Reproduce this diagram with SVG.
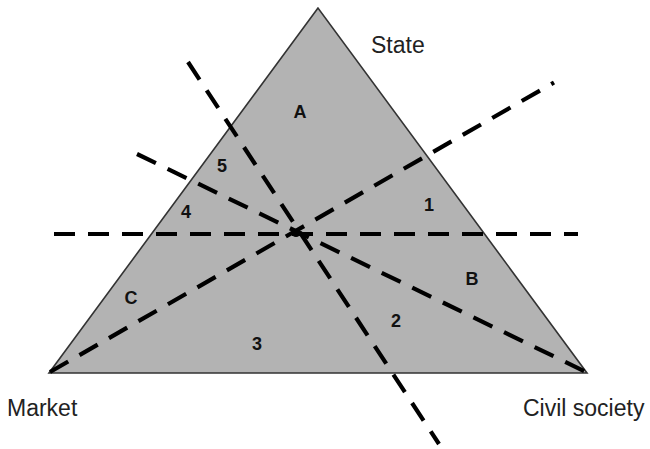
<svg xmlns="http://www.w3.org/2000/svg" width="650" height="449" viewBox="0 0 650 449">
  <style>
    .lbl { font-family: "Liberation Sans", Arial, sans-serif; font-size: 23px; fill: #222; }
    .zone { font-family: "Liberation Sans", Arial, sans-serif; font-size: 18px; font-weight: bold; fill: #111; text-anchor: middle; }
    .dash { stroke: #000; stroke-width: 4.2; stroke-dasharray: 21 13; fill: none; }
  </style>
  <rect width="650" height="449" fill="#fff"/>
  <g id="triangle">
    <polygon points="318,8 49,373 587,373" fill="#b3b3b3" stroke="#333" stroke-width="1.6" stroke-linejoin="miter"/>
  </g>
  <g id="connectors">
    <line class="dash" x1="54" y1="234" x2="578" y2="234"/>
    <line class="dash" x1="50" y1="372" x2="554" y2="82.5"/>
    <line class="dash" x1="137" y1="154" x2="586" y2="372"/>
    <line class="dash" x1="188" y1="62" x2="439" y2="444"/>
    <circle cx="296" cy="233" r="4" fill="#000"/>
  </g>
  <g id="state"><text class="lbl" x="371" y="53">State</text></g>
  <g id="market"><text class="lbl" x="7" y="416">Market</text></g>
  <g id="civil-society"><text class="lbl" x="523" y="416">Civil society</text></g>
  <g id="zone-A"><text class="zone" x="300" y="118">A</text></g>
  <g id="zone-5"><text class="zone" x="222" y="172">5</text></g>
  <g id="zone-4"><text class="zone" x="186" y="218">4</text></g>
  <g id="zone-1"><text class="zone" x="429" y="211">1</text></g>
  <g id="zone-B"><text class="zone" x="472" y="285">B</text></g>
  <g id="zone-C"><text class="zone" x="131" y="304">C</text></g>
  <g id="zone-2"><text class="zone" x="396" y="327">2</text></g>
  <g id="zone-3"><text class="zone" x="257" y="350">3</text></g>
</svg>
